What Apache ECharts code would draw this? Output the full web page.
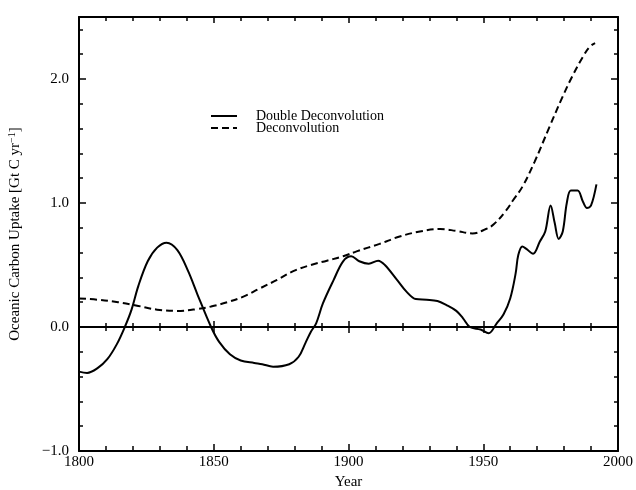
<!DOCTYPE html>
<html>
<head>
<meta charset="utf-8">
<script src="https://cdn.jsdelivr.net/npm/echarts@6/dist/echarts.min.js"></script>
<style>
  html, body { margin: 0; padding: 0; background: #fff; }
  #chart { width: 636px; height: 490px; }
</style>
</head>
<body>
<div id="chart"></div>
<script>
// Oceanic carbon uptake reconstructions, 1800-1992 (Gt C per year)
const seriesNames = ['Double Deconvolution', 'Deconvolution'];

const doubleDeconvYears = [
  1800, 1803, 1807, 1810.5, 1814, 1817, 1819.5, 1822, 1825.5, 1829, 1832.5, 1836.5,
  1840.5, 1844, 1849, 1852, 1856, 1860, 1865, 1868, 1872, 1878, 1881.5, 1884,
  1886, 1888, 1890.5, 1894.5, 1898, 1901, 1904, 1907.5, 1911, 1913.5, 1918, 1921.5, 1925,
  1929, 1933, 1936.5, 1940, 1942.5, 1945, 1949, 1952, 1955, 1957.5, 1960, 1962,
  1963, 1964.5, 1966, 1968.5, 1971, 1973, 1975, 1976.5, 1978, 1979.5, 1981, 1982.5,
  1985, 1987, 1988.5, 1990, 1992
];
const doubleDeconvValues = [
  -0.36, -0.37, -0.33, -0.26, -0.14, 0.0, 0.14, 0.33, 0.53, 0.64, 0.68, 0.62,
  0.45, 0.26, 0.0, -0.12, -0.22, -0.27, -0.29, -0.30, -0.32, -0.30, -0.24, -0.13,
  -0.04, 0.03, 0.19, 0.38, 0.53, 0.57, 0.53, 0.51, 0.535, 0.50, 0.38, 0.285, 0.225,
  0.22, 0.21, 0.175, 0.13, 0.07, 0.0, -0.02, -0.05, 0.03, 0.10, 0.23, 0.43,
  0.58, 0.65, 0.63, 0.59, 0.69, 0.77, 0.98, 0.84, 0.71, 0.77, 1.0, 1.10,
  1.10, 1.01, 0.96, 0.98, 1.15
];

const deconvYears = [
  1800, 1807, 1814.5, 1822, 1829, 1836.5, 1844, 1849, 1855, 1861, 1867, 1873.5,
  1879.5, 1886, 1892, 1898, 1903, 1911.5, 1919, 1926.5, 1934, 1940, 1946, 1951,
  1954, 1958.5, 1961, 1964.5, 1969, 1974.5, 1979.5, 1983, 1987, 1989.5, 1991.5
];
const deconvValues = [
  0.23, 0.22, 0.20, 0.17, 0.14, 0.13, 0.145, 0.165, 0.20, 0.245, 0.31, 0.38,
  0.45, 0.50, 0.535, 0.57, 0.61, 0.67, 0.73, 0.77, 0.79, 0.775, 0.755, 0.79,
  0.83, 0.94, 1.02, 1.13, 1.33, 1.61, 1.86, 2.02, 2.18, 2.26, 2.29
];

const yearTickLabels = [1800, 1850, 1900, 1950, 2000];
const uptakeTickLabels = [-1, 0, 1, 2];

const FONT = '"Liberation Serif", "Times New Roman", serif';
const INK = '#000';

function pairs(xs, ys) { return xs.map((x, i) => [x, ys[i]]); }

function fmtUptake(v) {
  const r = Math.round(v);
  if (Math.abs(v - r) > 1e-6 || uptakeTickLabels.indexOf(r) < 0) return '';
  return (r < 0 ? '\u2212' : '') + Math.abs(r).toFixed(1);
}
function fmtYear(v) {
  return yearTickLabels.indexOf(Math.round(v)) >= 0 ? String(Math.round(v)) : '';
}

const xBase = { type: 'value', min: 1800, max: 2000, interval: 50, splitLine: { show: false } };
const yBase = { type: 'value', min: -1, max: 2.5, splitLine: { show: false } };
const line2 = { show: true, onZero: false, lineStyle: { color: INK, width: 2 } };
const tickStyle = { color: INK, width: 1.5 };

const chart = echarts.init(document.getElementById('chart'), null, { renderer: 'canvas' });
chart.setOption({
  animation: false,
  backgroundColor: '#fff',
  grid: { left: 79, right: 18, top: 17, bottom: 39, containLabel: false, outerBoundsMode: 'none' },
  legend: {
    orient: 'vertical',
    left: 205,
    top: 104,
    itemWidth: 26,
    itemHeight: 12,
    itemGap: -2,
    itemStyle: { opacity: 0 },
    textStyle: { fontFamily: FONT, fontSize: 14, lineHeight: 12, color: INK, padding: [0, 0, 0, 14] },
    data: seriesNames
  },
  xAxis: [
    Object.assign({}, xBase, {
      position: 'bottom',
      axisLine: line2,
      axisTick: { show: true, inside: true, length: 7, lineStyle: tickStyle },
      minorTick: { show: true, splitNumber: 5, length: 5, lineStyle: tickStyle },
      axisLabel: { formatter: fmtYear, fontFamily: FONT, fontSize: 15, color: INK, margin: 4 },
      name: 'Year', nameLocation: 'middle', nameGap: 20,
      nameTextStyle: { fontFamily: FONT, fontSize: 15, color: INK }
    }),
    Object.assign({}, xBase, {
      position: 'top',
      axisLine: line2,
      axisTick: { show: true, inside: true, length: 6, lineStyle: tickStyle },
      minorTick: { show: true, splitNumber: 5, length: 4, lineStyle: tickStyle },
      axisLabel: { show: false }
    }),
    // zero line, upward ticks
    Object.assign({}, xBase, {
      position: 'bottom',
      axisLine: { show: true, onZero: true, onZeroAxisIndex: 0, lineStyle: { color: INK, width: 2 } },
      axisTick: { show: true, inside: true, length: 6, lineStyle: tickStyle },
      minorTick: { show: true, splitNumber: 5, length: 4, lineStyle: tickStyle },
      axisLabel: { show: false }
    }),
    // zero line, downward ticks
    Object.assign({}, xBase, {
      position: 'bottom',
      axisLine: { show: true, onZero: true, onZeroAxisIndex: 0, lineStyle: { color: INK, width: 2 } },
      axisTick: { show: true, inside: false, length: 6, lineStyle: tickStyle },
      minorTick: { show: true, splitNumber: 5, length: 4, lineStyle: tickStyle },
      axisLabel: { show: false }
    })
  ],
  yAxis: [
    Object.assign({}, yBase, {
      position: 'left',
      interval: 0.2,
      axisLine: line2,
      axisTick: { show: true, inside: true, length: 4, lineStyle: tickStyle },
      axisLabel: { formatter: fmtUptake, fontFamily: FONT, fontSize: 15, color: INK, margin: 10 },
      name: 'Oceanic Carbon Uptake [Gt C yr{sup|\u22121}]',
      nameLocation: 'middle', nameGap: 56, nameRotate: 90,
      nameTextStyle: {
        fontFamily: FONT, fontSize: 15, color: INK,
        rich: { sup: { fontFamily: FONT, fontSize: 10, color: INK, verticalAlign: 'top', padding: [0, 0, 6, 0] } }
      }
    }),
    Object.assign({}, yBase, {
      position: 'right',
      interval: 0.2,
      axisLine: line2,
      axisTick: { show: true, inside: true, length: 4, lineStyle: tickStyle },
      axisLabel: { show: false }
    }),
    Object.assign({}, yBase, {
      position: 'left',
      interval: 1,
      axisLine: { show: false, onZero: false },
      axisTick: { show: true, inside: true, length: 7, lineStyle: tickStyle },
      axisLabel: { show: false }
    }),
    Object.assign({}, yBase, {
      position: 'right',
      interval: 1,
      axisLine: { show: false, onZero: false },
      axisTick: { show: true, inside: true, length: 7, lineStyle: tickStyle },
      axisLabel: { show: false }
    })
  ],
  series: [
    {
      name: seriesNames[0],
      type: 'line',
      xAxisIndex: 0, yAxisIndex: 0,
      data: pairs(doubleDeconvYears, doubleDeconvValues),
      smooth: 0.35,
      symbol: 'none',
      lineStyle: { color: INK, width: 2, type: 'solid' },
      itemStyle: { color: INK },
      z: 5
    },
    {
      name: seriesNames[1],
      type: 'line',
      xAxisIndex: 0, yAxisIndex: 0,
      data: pairs(deconvYears, deconvValues),
      smooth: 0.4,
      symbol: 'none',
      lineStyle: { color: INK, width: 2, type: [7, 4] },
      itemStyle: { color: INK },
      z: 5
    }
  ]
});
</script>
</body>
</html>
